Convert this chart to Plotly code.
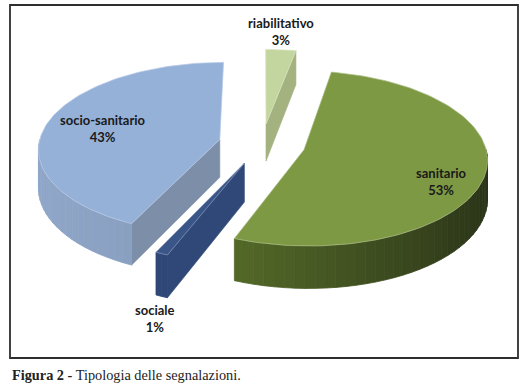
import numpy as np
import plotly.graph_objects as go

# ---------------- data ----------------
categories = ["riabilitativo", "sanitario", "sociale", "socio-sanitario"]
values = [3, 53, 1, 43]
pct_labels = [f"{v}%" for v in values]

# ---------------- styles ----------------
top_colors = ["#c4d69f", "#7e9944", "#3a5588", "#95b1d8"]
wall_left = ["#a9b884", "#66822f", "#2f4878", "#90a7c9"]
wall_right = ["#a9b884", "#2a3318", "#2c4472", "#7a8ead"]
start_face_colors = ["#a4b27f", "#5a7030", "#2f4877", "#7d8ea8"]
end_face_colors = ["#a4b27f", "#5a7030", "#2f4877", "#7d8ea8"]
label_pos = [(281, 31), (441, 181), (155, 318), (103, 128)]

# ---------------- geometry (pseudo 3D projection) ----------------
CX, CY = 262.0, 144.0
A, B, K = 181.0, 85.6, 0.098
EXPL = 0.24
DEPTH = 38.0


def proj(u, v, z=0.0):
    u = np.asarray(u, dtype=float)
    v = np.asarray(v, dtype=float)
    s = 1.0 / (1.0 + K * v)
    return CX + A * u * s, CY - B * v * s + z * DEPTH * s


def hexmix(c1, c2, t):
    a = [int(c1[i:i + 2], 16) for i in (1, 3, 5)]
    b = [int(c2[i:i + 2], 16) for i in (1, 3, 5)]
    m = [round(a[i] + (b[i] - a[i]) * t) for i in range(3)]
    return "#%02x%02x%02x" % tuple(m)


fig = go.Figure()


def poly(xs, ys, color, lw=0.6, lc=None):
    fig.add_trace(go.Scatter(
        x=list(xs) + [xs[0]], y=list(ys) + [ys[0]], mode="lines", fill="toself",
        fillcolor=color, line=dict(color=lc or color, width=lw),
        hoverinfo="skip", showlegend=False))


total = float(sum(values))
bounds = np.concatenate([[0.0], np.cumsum(values)]) / total * 360.0

# draw order: back to front
order = [0, 3, 1, 2]
for i in order:
    ts, te = bounds[i], bounds[i + 1]
    tm = np.radians((ts + te) / 2)
    eu, ev = EXPL * np.sin(tm), EXPL * np.cos(tm)
    rs, re_ = np.radians(ts), np.radians(te)

    def radial_face(th, color):
        u0, v0 = eu, ev
        u1, v1 = eu + np.sin(th), ev + np.cos(th)
        xa, ya = proj([u0, u1, u1, u0], [v0, v1, v1, v0], np.array([0, 0, 1, 1]))
        poly(xa, ya, color)

    # radial faces (only those facing the viewer)
    if np.sin(rs) < -1e-6:
        radial_face(rs, start_face_colors[i])
    if np.sin(re_) > 1e-6:
        radial_face(re_, end_face_colors[i])

    # outer curved wall, visible (front) part only, shaded left->right
    w0, w1 = max(ts, 90.0), min(te, 270.0)
    if w1 > w0:
        nseg = max(1, int(np.ceil((w1 - w0) / 3.0)))
        edges = np.linspace(w0, w1, nseg + 1)
        for k in range(nseg):
            th = np.radians(np.linspace(edges[k], edges[k + 1], 4))
            u = eu + np.sin(th)
            v = ev + np.cos(th)
            xt, yt = proj(u, v, 0)
            xb, yb = proj(u[::-1], v[::-1], 1)
            tmid = (np.sin(np.radians((edges[k] + edges[k + 1]) / 2)) + 1) / 2
            col = hexmix(wall_left[i], wall_right[i], tmid)
            poly(np.concatenate([xt, xb]), np.concatenate([yt, yb]), col, lw=0.8)

    # top face
    th = np.radians(np.linspace(ts, te, max(4, int((te - ts) / 1.5) + 2)))
    u = np.concatenate([[eu], eu + np.sin(th)])
    v = np.concatenate([[ev], ev + np.cos(th)])
    xt, yt = proj(u, v, 0)
    poly(xt, yt, top_colors[i], lw=0.7, lc=hexmix(top_colors[i], "#ffffff", 0.35))

# labels
for i, (lx, ly) in enumerate(label_pos):
    fig.add_annotation(x=lx, y=ly, text=f"<b>{categories[i]}</b><br><b>{pct_labels[i]}</b>",
                       showarrow=False, xanchor="center", yanchor="middle",
                       font=dict(family="Lato", size=13, color="#1a1a1a"))

# caption
fig.add_annotation(x=10, y=375, text="<b>Figura 2 -</b> Tipologia delle segnalazioni.",
                   showarrow=False, xanchor="left", yanchor="middle",
                   font=dict(family="Liberation Serif", size=14.3, color="#222222"))

# frame
fig.add_shape(type="rect", x0=10, y0=5, x1=518, y1=358,
              line=dict(color="#2e2e2e", width=1.8), fillcolor="rgba(0,0,0,0)")

fig.update_layout(
    width=526, height=387, margin=dict(l=0, r=0, t=0, b=0),
    paper_bgcolor="white", plot_bgcolor="white", showlegend=False,
    xaxis=dict(range=[0, 526], visible=False, fixedrange=True),
    yaxis=dict(range=[387, 0], visible=False, fixedrange=True),
)

fig.write_html("out.html")
